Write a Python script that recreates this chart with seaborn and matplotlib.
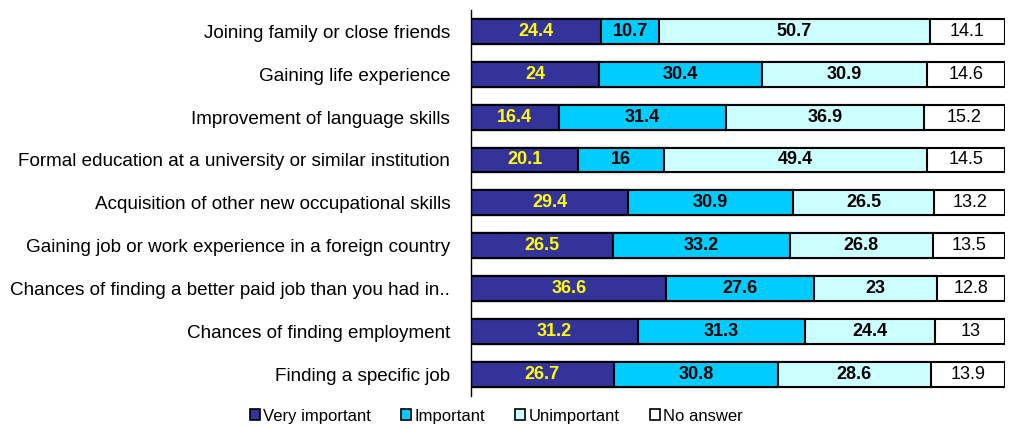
import numpy as np
import pandas as pd
import matplotlib
matplotlib.use("Agg")
import matplotlib.pyplot as plt
import seaborn as sns
from matplotlib.patches import Patch

categories = [
    "Joining family or close friends",
    "Gaining life experience",
    "Improvement of language skills",
    "Formal education at a university or similar institution",
    "Acquisition of other new occupational skills",
    "Gaining job or work experience in a foreign country",
    "Chances of finding a better paid job than you had in..",
    "Chances of finding employment",
    "Finding a specific job",
]
very_important = [24.4, 24, 16.4, 20.1, 29.4, 26.5, 36.6, 31.2, 26.7]
important = [10.7, 30.4, 31.4, 16, 30.9, 33.2, 27.6, 31.3, 30.8]
unimportant = [50.7, 30.9, 36.9, 49.4, 26.5, 26.8, 23, 24.4, 28.6]
no_answer = [14.1, 14.6, 15.2, 14.5, 13.2, 13.5, 12.8, 13, 13.9]

series = ["Very important", "Important", "Unimportant", "No answer"]
colors = ["#333399", "#00CCFF", "#CCFFFF", "#FFFFFF"]
text_colors = ["#FFFF00", "black", "black", "black"]
weights = ["bold", "bold", "bold", "normal"]

sns.set_style("white")
plt.rcParams["font.family"] = ["Liberation Sans", "DejaVu Sans"]
plt.rcParams["text.color"] = "black"
plt.rcParams["ytick.color"] = "black"

df = pd.DataFrame({"cat": categories, "Very important": very_important,
                   "Important": important, "Unimportant": unimportant,
                   "No answer": no_answer})
cum = df[series].cumsum(axis=1)
# scale so every row fills the full width
total = df[series].sum(axis=1)
cum = cum.mul(100 / total, axis=0)

fig = plt.figure(figsize=(10.13, 4.28), dpi=100)
ax = fig.add_axes([0.465, 0.075, 0.527, 0.902])

# draw cumulative bars from the widest down so they stack visually
for s, c in reversed(list(zip(series, colors))):
    sns.barplot(x=cum[s], y=df["cat"], color=c, orient="h", width=0.58,
                edgecolor="black", linewidth=1.5, saturation=1, ax=ax)

for i in range(len(categories)):
    left = 0
    for s, tc, w in zip(series, text_colors, weights):
        right = cum[s].iloc[i]
        val = df[s].iloc[i]
        ax.text((left + right) / 2, i, f"{val:g}", ha="center", va="center",
                color=tc, fontsize=13, fontweight=w)
        left = right

ax.set_xlim(0, 100)
ax.set_ylim(len(categories) - 0.5, -0.5)
ax.set_xlabel("")
ax.set_ylabel("")
ax.set_xticks([])
for side in ["top", "right", "bottom"]:
    ax.spines[side].set_visible(False)
ax.spines["left"].set_color("black")
ax.spines["left"].set_linewidth(1)
ax.tick_params(axis="y", which="major", length=0, pad=15, labelsize=13.6,
               labelcolor="black")
ax.set_yticks(np.arange(len(categories) + 1) - 0.5, minor=True)
ax.tick_params(axis="y", which="minor", length=5, direction="out", color="black")

handles = [Patch(facecolor=c, edgecolor="black", linewidth=1.2) for c in colors]
leg = fig.legend(handles, series, loc="center", bbox_to_anchor=(0.49, 0.028), ncol=4,
                 frameon=False, fontsize=12, handlelength=0.6, handleheight=0.6,
                 handletextpad=0.2, columnspacing=1.8)
for t in leg.get_texts():
    t.set_color("black")

fig.savefig("out.png", dpi=100)
